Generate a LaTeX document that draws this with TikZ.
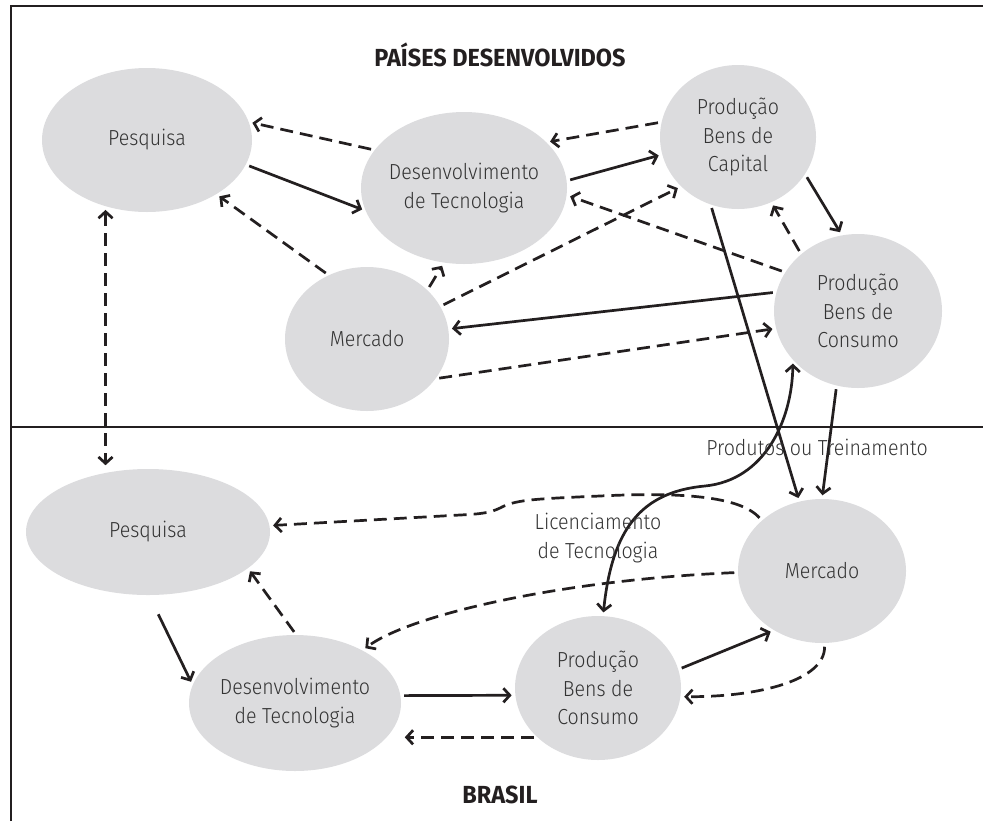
\documentclass[tikz,border=0pt]{standalone}
\usepackage{fontspec}
\setmainfont{Fira Sans}[UprightFont={* Light},BoldFont={* Bold},FakeStretch=0.9]
\newfontfamily\headfont{Fira Sans Bold}[FakeStretch=0.95]
\usetikzlibrary{shapes.geometric,arrows.meta,calc}
\definecolor{blobfill}{HTML}{DCDCDE}
\definecolor{ink}{HTML}{231F20}
\definecolor{txt}{HTML}{333333}
\tikzset{
  blob/.style={ellipse, fill=blobfill, draw=none, inner xsep=-45pt, inner ysep=-25pt,
    align=center, text=txt, font=\fontsize{18.5}{24}\selectfont},
  lbl/.style={text=txt, align=center, font=\fontsize{18.5}{24}\selectfont, inner sep=0pt},
  ttl/.style={text=ink, font=\fontsize{21}{25}\headfont, inner sep=0pt},
  frame/.style={draw=ink, line width=2.4pt},
  link/.style={draw=ink, line width=2.3pt, shorten <=3pt, shorten >=3pt,
    -{Straight Barb[length=5.5pt,width=12pt]}},
  both/.style={link, {Straight Barb[length=5.5pt,width=12pt]}-{Straight Barb[length=5.5pt,width=12pt]}},
  dsh/.style={dash pattern=on 11pt off 6pt},
}
\begin{document}
\begin{tikzpicture}[x=0.85pt, y=-0.85pt]
\useasboundingbox (0,0) rectangle (983,821);

% frame and divider
\draw[frame] (11,821) -- (11,6) -- (983,6);
\draw[frame] (11,427) -- (983,427);

% titles
\node[ttl] (tA) at (500,55) {PAÍSES DESENVOLVIDOS};
\node[ttl] (tB) at (500,795) {BRASIL};

% developed countries
\node[blob, minimum width=178.5pt, minimum height=122.4pt] (P1) at (147,140) {Pesquisa};
\node[blob, minimum width=175.1pt, minimum height=129.2pt] (D1) at (464,188) {Desenvolvimento\\de Tecnologia};
\node[blob, minimum width=132.6pt, minimum height=122.4pt] (C1) at (738,137) {Produção\\Bens de\\Capital};
\node[blob, minimum width=142.8pt, minimum height=130.9pt] (S1) at (858,311) {Produção\\Bens de\\Consumo};
\node[blob, minimum width=139.4pt, minimum height=122.4pt] (M1) at (367,339) {Mercado};

% Brazil
\node[blob, minimum width=207.4pt, minimum height=107.1pt] (P2) at (148,532) {Pesquisa};
\node[blob, minimum width=180.2pt, minimum height=115.6pt] (D2) at (295,703) {Desenvolvimento\\de Tecnologia};
\node[blob, minimum width=141.1pt, minimum height=122.4pt] (S2) at (598,688) {Produção\\Bens de\\Consumo};
\node[blob, minimum width=142.8pt, minimum height=122.4pt] (M2) at (822,571) {Mercado};

% upper connectors
\draw[link] (P1.-14) -- (D1.193);
\draw[link,dsh] (D1.157) -- (P1.10);
\draw[link,dsh] (M1.121) -- (P1.-38);
\draw[link,dsh] (M1.39) -- (D1.255);
\draw[link,dsh] (M1.24) -- (C1.221);
\draw[link] (D1.4) -- (C1.193);
\draw[link,dsh] (C1.169) -- (D1.29);
\draw[link,dsh] (S1.152) -- (D1.-4);
\draw[link] (C1.-29) -- (S1.102);
\draw[link,dsh] (S1.135) -- (C1.-63);
\draw[link] (S1.167) -- (M1.7);
\draw[link,dsh] (M1.-30) -- (S1.192);

% between the two regions
\draw[both,dsh] (P1.238) -- (P1.238 |- P2.north);
\draw[link] (C1.248) -- (M2.108);
\draw[link] (S1.254) -- (M2.north);
\coordinate (via) at (705,486);
\draw[both] (S2.86) .. controls (612,530) and (640,492) .. (via)
  .. controls (765,480) and (792,420) .. (S1.217);
\node[lbl] (lp) at (817,447) {Produtos ou Treinamento};
\node[lbl] (ll) at (598,538) {Licenciamento\\de Tecnologia};

% lower connectors
\coordinate (kink) at (460,515);
\draw[link,dsh] (M2.140) .. controls (740,496) and (680,492) .. (600,496)
  .. controls (530,499) and (515,500) .. (500,508)
  .. controls (490,513) and (480,514) .. (kink) -- (P2.3);
\draw[link,dsh] (M2.181) .. controls (560,580) and (410,615) .. (D2.38);
\draw[link] ($(P2.-83)+(1,16)$) -- (D2.170);
\draw[link,dsh] (D2.89) -- (P2.-20);
\draw[link] (D2.4) -- (S2.185);
\draw[link,dsh] (S2.219) -- (S2.219 -| D2.east);
\draw[link] (S2.13) -- (M2.231);
\draw[link,dsh] (M2.272) .. controls (825,680) and (760,697) .. (S2.-6);
\end{tikzpicture}
\end{document}
